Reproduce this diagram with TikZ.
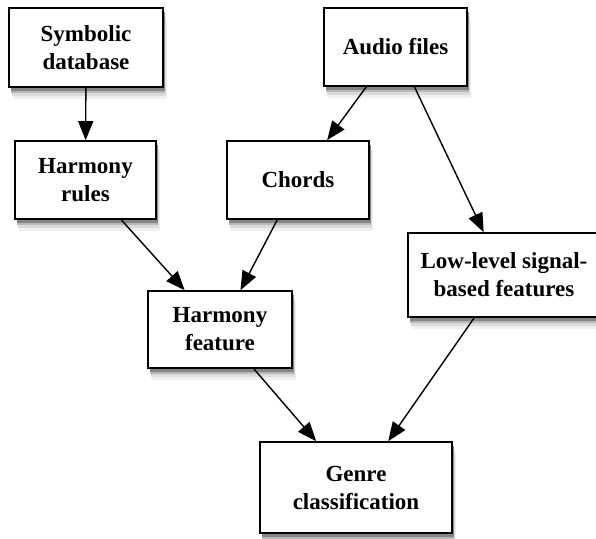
\documentclass[tikz,border=0pt]{standalone}
\usepackage{fontspec}
\setmainfont{Liberation Serif}
\usepackage{tikz}
\usetikzlibrary{positioning, arrows.meta}

\begin{document}
\begin{tikzpicture}[x=1pt, y=-1pt,
	stage/.style={draw, line width=1.6pt, fill=white, align=center, inner sep=0pt,
		font=\fontsize{23}{28}\selectfont\bfseries,
		preaction={fill=black!6, transform canvas={xshift=4pt, yshift=-12pt}},
		preaction={fill=black!14, transform canvas={xshift=3pt, yshift=-9pt}},
		preaction={fill=black!28, transform canvas={xshift=2pt, yshift=-6pt}},
		preaction={fill=black!48, transform canvas={xshift=1.5pt, yshift=-4pt}}},
	flow/.style={line width=1.4pt, -{Triangle[length=19pt, width=15pt]}}]
	\useasboundingbox (0,0) rectangle (596,538);
	
	\node[stage, minimum width=154pt, minimum height=79pt] (symb) at (86,47.5) {Symbolic\\database};
	\node[stage, minimum width=143pt, minimum height=78pt] (audio) at (395.5,47) {Audio files};
	\node[stage, minimum width=141pt, minimum height=78pt] (rules) at (85.5,180) {Harmony\\rules};
	\node[stage, minimum width=142pt, minimum height=78pt] (chords) at (298,180) {Chords};
	\node[stage, minimum width=192pt, minimum height=84pt] (lowlevel) at (504,275) {Low-level signal-\\based features};
	\node[stage, minimum width=144pt, minimum height=77pt] (feature) at (220,329.5) {Harmony\\feature};
	\node[stage, minimum width=192pt, minimum height=91pt] (genre) at (356,487.5) {Genre\\classification};
	
	\draw[flow] (symb) -- (rules);
	\draw[flow] (audio) -- (chords);
	\draw[flow] (audio) -- (lowlevel);
	\draw[flow] (rules) -- (feature);
	\draw[flow] (chords) -- (feature);
	\draw[flow] (feature) -- (genre);
	\draw[flow] (lowlevel) -- (genre);
\end{tikzpicture}
\end{document}
